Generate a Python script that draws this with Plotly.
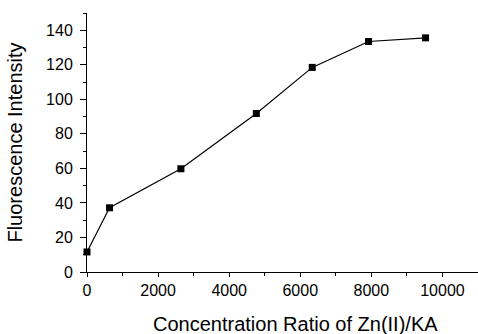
import plotly.graph_objects as go

ratio = [0, 634, 2642, 4764, 6337, 7921, 9525]
intensity = [11.6, 37.2, 59.8, 91.8, 118.5, 133.5, 135.6]
x_ticks = [0, 2000, 4000, 6000, 8000, 10000]
y_ticks = [0, 20, 40, 60, 80, 100, 120, 140]

font = "Liberation Sans, Arial, sans-serif"

fig = go.Figure(go.Scatter(
    x=ratio, y=intensity, mode="lines+markers",
    line=dict(color="black", width=1.2),
    marker=dict(symbol="square", size=7, color="black"),
    cliponaxis=False,
))

fig.update_layout(
    width=478, height=334,
    margin=dict(l=87, r=0, t=13, b=62),
    plot_bgcolor="white", paper_bgcolor="white",
    showlegend=False,
    font=dict(family=font, size=16, color="black"),
)
fig.add_annotation(
    text="Concentration Ratio of Zn(II)/KA", xref="paper", yref="paper",
    x=0.532, y=-0.20, xanchor="center", yanchor="middle",
    showarrow=False, font=dict(size=20),
)
fig.update_xaxes(
    range=[0, 11000], tickvals=x_ticks, ticktext=[str(v) for v in x_ticks],
    showline=True, linecolor="black", linewidth=1,
    ticks="outside", ticklen=4, tickcolor="black", tickwidth=1,
    minor=dict(dtick=1000, ticks="outside", ticklen=3, tickcolor="black"),
    showgrid=False, zeroline=False,
    tickfont=dict(size=16),
)
fig.update_yaxes(
    range=[0, 150], tickvals=y_ticks, ticktext=[str(v) for v in y_ticks],
    showline=True, linecolor="black", linewidth=1,
    ticks="outside", ticklen=6, tickcolor="black", tickwidth=1,
    ticklabelstandoff=4,
    minor=dict(dtick=10, ticks="outside", ticklen=3, tickcolor="black"),
    showgrid=False, zeroline=False,
    title=dict(text="Fluorescence Intensity", font=dict(size=20), standoff=18),
    tickfont=dict(size=16),
)

fig.write_html("out.html")
